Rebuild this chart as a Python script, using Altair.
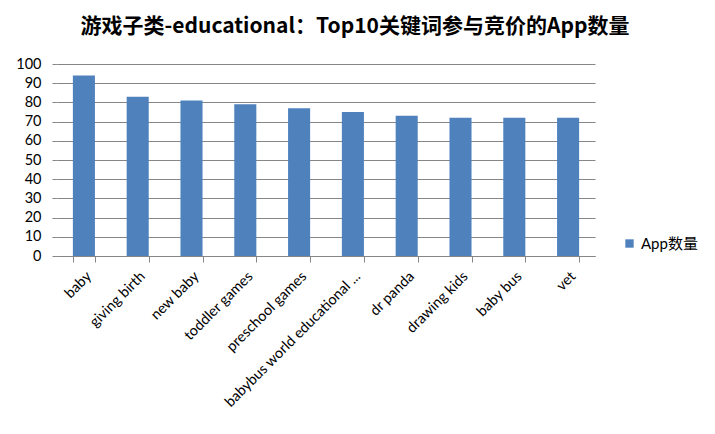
import altair as alt
import pandas as pd

keywords = ["baby", "giving birth", "new baby", "toddler games", "preschool games",
            "babybus world educational ...", "dr panda", "drawing kids", "baby bus", "vet"]
counts = [94, 83, 81, 79, 77, 75, 73, 72, 72, 72]
series_name = "App数量"
title_text = "游戏子类-educational：Top10关键词参与竞价的App数量"

df = pd.DataFrame({"keyword": keywords, "count": counts, "series": [series_name] * len(keywords)})

FONT = "Lato, 'Noto Sans CJK SC', sans-serif"

chart = alt.Chart(df).mark_bar(color="#4F81BD").encode(
    x=alt.X("keyword:N", sort=keywords, title=None,
            scale=alt.Scale(paddingInner=0.59, paddingOuter=0.295),
            axis=alt.Axis(labelAngle=-45, tickBand="extent", tickSize=6,
                          domainColor="#868686", tickColor="#868686",
                          labelFont=FONT, labelFontSize=14.5, labelColor="#000000",
                          labelPadding=7, labelLimit=300)),
    y=alt.Y("count:Q", title=None,
            scale=alt.Scale(domain=[0, 100], nice=False),
            axis=alt.Axis(values=list(range(0, 101, 10)), grid=True, gridColor="#868686",
                          domain=False, tickColor="#868686", tickSize=5,
                          labelFont=FONT, labelFontSize=14.5, labelColor="#000000",
                          labelPadding=11)),
    color=alt.Color("series:N", scale=alt.Scale(range=["#4F81BD"]),
                    legend=alt.Legend(title=None, orient="none", legendX=565, legendY=172,
                                      symbolType="square", symbolSize=70, symbolStrokeWidth=0,
                                      labelFont=FONT, labelFontSize=15, labelColor="#000000")),
).properties(
    width=538, height=192,
    title=alt.TitleParams(title_text, font="'Noto Sans CJK SC', sans-serif", fontSize=21,
                          fontWeight="bold", anchor="middle", dx=29, offset=19, color="#000000"),
    autosize=alt.AutoSizeParams(type="none"),
    padding={"left": 49, "top": 56, "right": 112, "bottom": 170},
).configure_view(stroke=None)

chart.save("out.html", embed_options={"renderer": "svg", "actions": False})
